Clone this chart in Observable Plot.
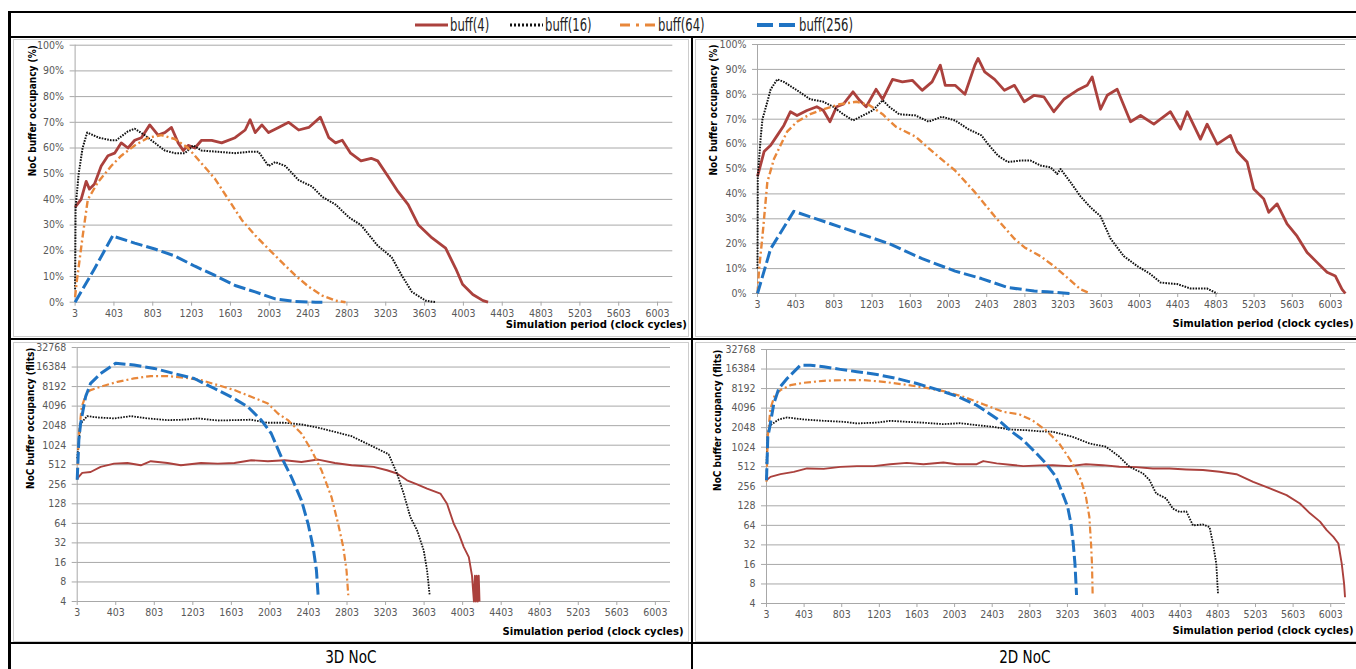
<!DOCTYPE html>
<html>
<head>
<meta charset="utf-8">
<script src="https://cdn.jsdelivr.net/npm/d3@7"></script>
<script src="https://cdn.jsdelivr.net/npm/@observablehq/plot@0.6"></script>
<style>
  html, body { margin: 0; padding: 0; background: #fff; width: 1356px; height: 669px; overflow: hidden; }
  body { position: relative; font-family: "Liberation Sans Narrow", "DejaVu Sans Condensed", "Liberation Sans", Arial, sans-serif; }
  .rule { position: absolute; background: #000; }
  .frame { position: absolute; border: 1px solid #cdcdcd; box-sizing: border-box; }
  .panel { position: absolute; }
  .legend-item { position: absolute; top: 14px; height: 22px; display: flex; align-items: center; font-size: 17px; color: #222; white-space: nowrap; }
  .legend-item svg { margin-right: 2px; flex: none; }
  .legend-item span { display: inline-block; transform: scaleX(0.76); transform-origin: left center; }
  .caption { position: absolute; top: 645px; height: 24px; line-height: 24px; text-align: center; font-size: 17.5px; color: #000; }
  .caption span { display: inline-block; transform: scaleX(0.86); }
</style>
</head>
<body>
<script>
// Simulation cycle ticks shared by all four charts
const cycleTicks = [3, 403, 803, 1203, 1603, 2003, 2403, 2803, 3203, 3603, 4003, 4403, 4803, 5203, 5603, 6003];
const pctTicks = [0, 10, 20, 30, 40, 50, 60, 70, 80, 90, 100];
const flitTicks = [4, 8, 16, 32, 64, 128, 256, 512, 1024, 2048, 4096, 8192, 16384, 32768];
const seriesNames = ["buff(4)", "buff(16)", "buff(64)", "buff(256)"];
const networkNames = ["3D NoC", "2D NoC"];

// 3D NoC, buffer occupancy in percent  [cycle, %]
const pct3d_b4 = [[3,37],[65,40],[117,47],[151,44],[203,46],[272,53],[341,57],[410,58],[479,62],[548,60],[617,63],[686,64],[772,69],[858,65],[927,66],[996,68],[1065,62],[1117,59],[1168,61],[1237,60],[1306,63],[1410,63],[1513,62],[1651,64],[1755,67],[1806,71],[1858,66],[1927,69],[1996,66],[2099,68],[2203,70],[2306,67],[2410,68],[2530,72],[2617,64],[2686,62],[2755,63],[2841,58],[2948,55],[3053,56],[3120,55],[3226,49],[3330,43],[3434,38],[3540,30],[3680,25],[3820,21],[3925,13],[3994,7],[4100,3],[4205,0.6],[4257,0]];
const pct3d_b16 = [[3,5],[8,37],[40,50],[80,60],[127,66],[250,64],[375,63],[427,63],[548,66.5],[617,67.5],[720,65],[858,61],[927,59],[1030,58],[1134,58],[1220,61],[1306,59],[1479,58.5],[1651,58],[1789,58.5],[1893,58.5],[1996,53],[2065,54.5],[2168,53],[2306,47.5],[2444,45],[2548,41],[2686,38],[2824,33],[2948,30],[3120,22],[3264,17.5],[3368,10.4],[3473,4],[3613,0.6],[3718,0]];
const pct3d_b64 = [[3,2],[20,8],[82,26],[134,40],[237,46.6],[375,53],[479,57],[617,61],[755,64],[893,65],[1030,63.5],[1168,60],[1306,54],[1444,48],[1582,40],[1720,32],[1858,26],[1996,20.7],[2134,15.5],[2272,10.4],[2410,6],[2548,2.6],[2686,0.6],[2789,0]];
const pct3d_b256 = [[3,0],[203,13],[393,26],[410,25.5],[617,23],[824,20.7],[1030,18],[1237,14],[1444,10.4],[1651,6.5],[1858,4],[2065,1.3],[2272,0.3],[2479,0],[2550,0]];

// 2D NoC, buffer occupancy in percent  [cycle, %]
const pct2d_b4 = [[3,47],[72,57],[141,59.5],[210,63.5],[279,67.5],[348,73],[417,71.5],[520,73.5],[624,75],[693,73.5],[762,69],[831,75],[900,76],[1003,81],[1072,77.6],[1141,75],[1244,82],[1313,78],[1417,86],[1520,85],[1624,85.6],[1727,81.6],[1831,85],[1917,91.7],[1969,83.6],[2072,83.6],[2175,80],[2279,91.7],[2313,94.4],[2382,89],[2486,86],[2589,81.6],[2693,83.6],[2796,77],[2900,79.6],[3001,79],[3106,73],[3211,78],[3350,81.6],[3455,83.6],[3507,87],[3595,74],[3665,79.6],[3769,82],[3909,69],[4014,71.5],[4153,68],[4327,73],[4432,66],[4502,73],[4641,62],[4711,68],[4816,60],[4955,63.5],[5025,57],[5130,52.8],[5199,42],[5304,38],[5356,32.6],[5444,36],[5548,28],[5653,23],[5758,16.5],[5862,12.5],[5967,8.5],[6054,7],[6124,1.7],[6159,0]];
const pct2d_b16 = [[3,10],[6,47],[37,63],[55,70],[106,77],[141,82],[210,86],[279,85],[417,81.6],[555,78],[693,77],[796,75],[900,72],[1003,69.5],[1106,71.5],[1210,73.5],[1313,77.6],[1382,75],[1486,72],[1658,71.5],[1796,69],[1934,71],[2072,69.5],[2210,66],[2348,63.5],[2417,60],[2520,55.4],[2624,52.8],[2762,53.4],[2862,53.4],[2966,51.4],[3071,50.7],[3141,48],[3176,50],[3280,44.7],[3385,39],[3490,34.6],[3595,31],[3700,22],[3839,15],[3979,11],[4118,7.8],[4223,4.4],[4397,3.8],[4537,2],[4711,2],[4816,0]];
const pct2d_b64 = [[3,0],[20,10],[55,23],[106,44.7],[175,54],[313,65],[417,69],[555,72],[693,74],[865,76],[1038,77],[1175,75.6],[1313,72],[1451,67],[1658,63],[1865,56],[2072,49.4],[2279,40.7],[2486,31],[2693,22],[2800,18.5],[2966,15],[3106,11],[3246,6.4],[3385,1.7],[3490,0]];
const pct2d_b256 = [[3,0],[141,18],[383,33],[693,29],[1038,24.5],[1382,20],[1727,14],[2072,9],[2348,6],[2624,2.4],[2900,1],[3036,0.7],[3280,0]];

// 3D NoC, buffer occupancy in flits  [cycle, flits]
const flit3d_b4 = [[3,313],[55,383],[142,396],[246,474],[385,533],[524,545],[663,502],[767,580],[940,545],[1079,502],[1288,545],[1461,533],[1635,545],[1809,600],[1982,580],[2156,600],[2330,563],[2503,615],[2677,545],[2850,502],[3080,474],[3218,421],[3322,375],[3426,295],[3530,256],[3634,220],[3772,184],[3841,128],[3911,63],[3963,44],[4015,27.6],[4067,19.3],[4100,10],[4120,4],[4130,10],[4140,4],[4150,10],[4160,4],[4170,10],[4178,4]];
const flit3d_b16 = [[3,640],[38,2200],[107,2870],[211,2740],[385,2650],[559,2870],[732,2650],[940,2490],[1114,2530],[1253,2650],[1461,2460],[1635,2490],[1809,2530],[1982,2270],[2156,2270],[2330,2140],[2503,1910],[2677,1640],[2850,1410],[3080,963],[3235,743],[3322,375],[3391,184],[3460,80],[3530,50],[3599,24.5],[3634,12],[3661,5]];
const flit3d_b64 = [[3,300],[20,1500],[50,4000],[100,6500],[142,7230],[246,8130],[420,9700],[593,10950],[767,11900],[940,11900],[1114,11200],[1288,10300],[1461,8640],[1635,7230],[1809,5700],[1982,4500],[2086,3150],[2190,2490],[2330,1550],[2434,857],[2538,422],[2642,163],[2711,63],[2764,27.7],[2798,12],[2816,5]];
const flit3d_b256 = [[3,300],[20,1228],[38,2200],[90,5700],[142,9200],[246,13000],[402,18700],[593,17600],[802,15600],[1010,13000],[1218,10900],[1427,7650],[1600,5700],[1774,4000],[1913,2490],[2017,1550],[2121,676],[2225,333],[2330,145],[2399,63],[2451,27.6],[2486,12],[2503,5]];

// 2D NoC, buffer occupancy in flits  [cycle, flits]
const flit2d_b4 = [[3,317],[45,357],[152,393],[293,427],[434,482],[611,474],[788,510],[965,523],[1142,523],[1318,560],[1495,588],[1672,560],[1884,596],[2026,560],[2238,560],[2308,626],[2450,576],[2591,550],[2733,523],[2910,537],[3045,541],[3222,523],[3400,560],[3578,541],[3756,512],[3934,505],[4111,481],[4289,481],[4467,465],[4644,455],[4822,428],[5000,393],[5178,300],[5356,237],[5533,187],[5675,139],[5782,98],[5889,73],[5960,54],[6031,42.5],[6084,33.6],[6120,16.5],[6145,8.1],[6155,5]];
const flit2d_b16 = [[3,575],[17,1660],[45,2240],[134,2740],[222,2940],[399,2740],[611,2610],[823,2520],[965,2380],[1177,2450],[1318,2610],[1495,2520],[1672,2440],[1884,2320],[2061,2400],[2238,2240],[2414,2110],[2591,1920],[2768,1870],[2910,1800],[3045,1770],[3258,1480],[3436,1170],[3614,1040],[3756,730],[3862,512],[4005,405],[4076,318],[4147,198],[4253,166],[4324,116],[4395,103],[4467,105],[4538,64],[4644,66],[4715,60],[4751,33.6],[4786,16.5],[4804,5.7]];
const flit2d_b64 = [[3,300],[17,1500],[45,4000],[90,6500],[152,7750],[258,9250],[399,10070],[611,10800],[823,11050],[1035,11050],[1248,10400],[1460,9500],[1672,8530],[1884,7500],[2096,6130],[2308,4710],[2521,3590],[2689,3300],[2831,2650],[2974,1870],[3116,1170],[3258,575],[3347,318],[3400,176],[3436,87],[3454,33.6],[3464,16.5],[3471,5.7]];
const flit2d_b256 = [[3,317],[17,1480],[38,2100],[81,4830],[134,8200],[222,11700],[364,18800],[470,18800],[611,17800],[788,16200],[965,14900],[1177,13500],[1389,11700],[1601,9800],[1813,7950],[2026,6270],[2238,4550],[2450,2840],[2591,1870],[2733,1310],[2874,820],[2974,575],[3080,360],[3151,198],[3205,124],[3240,69],[3265,33.6],[3283,16.5],[3294,8.1],[3300,5.4]];

// ---- styling ----
const FONT = "'Liberation Sans Narrow','DejaVu Sans Condensed','Liberation Sans',Arial,sans-serif";
const seriesStyle = [
  {stroke: "#ab413d", dash: null,      pctWidth: 2.8, flitWidth: 1.9},
  {stroke: "#111111", dash: "1.6,1.2", pctWidth: 2.0, flitWidth: 1.8},
  {stroke: "#e8873a", dash: "7,3,2,3", pctWidth: 2.4, flitWidth: 2.2},
  {stroke: "#1f73c3", dash: "12,4",    pctWidth: 3.0, flitWidth: 3.0}
];
const gridColor = "#a8a8a8";
const tickText = "#595959";

function drawPanel(opts) {
  const {series, log, left, top, width, height, margin, yLabel, yLabelDx, xLabelDx, xLabelDy} = opts;
  const yTicks = log ? flitTicks : pctTicks;
  const marks = [
    Plot.gridY(yTicks, {stroke: gridColor, strokeOpacity: 1, strokeWidth: 1}),
    Plot.ruleX([3], {stroke: gridColor, strokeWidth: 1}),
    Plot.axisY(yTicks, {
      tickSize: 5, tickPadding: 6, stroke: gridColor, fill: tickText, fontSize: 10.5, label: null,
      tickFormat: log ? (d => String(d)) : (d => d + "%")
    }),
    Plot.axisX(cycleTicks, {
      tickSize: 4, tickPadding: 3, stroke: gridColor, fill: tickText, fontSize: 10.5, label: null,
      tickFormat: d => String(d)
    })
  ];
  series.forEach((data, i) => {
    const s = seriesStyle[i];
    marks.push(Plot.line(data, {
      x: d => d[0], y: d => d[1],
      stroke: s.stroke,
      strokeWidth: log ? s.flitWidth : s.pctWidth,
      strokeDasharray: s.dash,
      strokeLinejoin: "round",
      strokeLinecap: "butt"
    }));
  });
  marks.push(Plot.text([yLabel], {
    text: d => d, frameAnchor: "top-left", rotate: -90, textAnchor: "end",
    dx: yLabelDx, fontWeight: "bold", fontSize: 10, fill: "#000"
  }));
  marks.push(Plot.text(["Simulation period (clock cycles)"], {
    text: d => d, frameAnchor: "bottom-right", textAnchor: "end",
    dx: xLabelDx, dy: xLabelDy, fontWeight: "bold", fontSize: 11.2, fill: "#000"
  }));

  const svg = Plot.plot({
    width, height,
    marginLeft: margin[0], marginRight: margin[1], marginTop: margin[2], marginBottom: margin[3],
    x: {domain: [3, 6160], label: null},
    y: log
      ? {type: "log", base: 2, domain: [4, 32768], label: null}
      : {domain: [0, 100], label: null},
    style: {fontFamily: FONT, fontSize: "10.5px", background: "transparent", overflow: "visible", maxWidth: "none"},
    marks
  });
  const wrap = document.createElement("div");
  wrap.className = "panel";
  wrap.style.left = left + "px";
  wrap.style.top = top + "px";
  wrap.appendChild(svg);
  document.body.appendChild(wrap);
}

// ---- table rules and chart frames ----
function box(cls, l, t, w, h) {
  const d = document.createElement("div");
  d.className = cls;
  Object.assign(d.style, {left: l + "px", top: t + "px", width: w + "px", height: h + "px"});
  document.body.appendChild(d);
}
box("frame", 13, 39, 676, 298);
box("frame", 695, 39, 670, 298);
box("frame", 13, 342, 676, 300);
box("frame", 695, 342, 670, 300);

// ---- the four charts ----
drawPanel({series: [pct3d_b4, pct3d_b16, pct3d_b64, pct3d_b256], log: false,
  left: 12, top: 39, width: 678, height: 298, margin: [62.6, 17.7, 5.7, 35.3],
  yLabel: "NoC buffer occupancy (%)", yLabelDx: -46, xLabelDx: 14, xLabelDy: 26});
drawPanel({series: [pct2d_b4, pct2d_b16, pct2d_b64, pct2d_b256], log: false,
  left: 694, top: 39, width: 672, height: 298, margin: [63, 21, 5, 44],
  yLabel: "NoC buffer occupancy (%)", yLabelDx: -48, xLabelDx: 8, xLabelDy: 33});
drawPanel({series: [flit3d_b4, flit3d_b16, flit3d_b64, flit3d_b256], log: true,
  left: 12, top: 342, width: 678, height: 299, margin: [64.7, 20, 5, 40],
  yLabel: "NoC buffer occupancy (flits)", yLabelDx: -50, xLabelDx: 13, xLabelDy: 33});
drawPanel({series: [flit2d_b4, flit2d_b16, flit2d_b64, flit2d_b256], log: true,
  left: 694, top: 342, width: 672, height: 299, margin: [72, 21, 7, 38],
  yLabel: "NoC buffer occupancy (flits)", yLabelDx: -53, xLabelDx: 8, xLabelDy: 30});

box("rule", 8, 11, 1348, 2);
box("rule", 8, 36, 1348, 2);
box("rule", 8, 338, 1348, 2);
box("rule", 8, 642, 1348, 2);
box("rule", 8, 11, 3, 658);
box("rule", 691, 36, 2, 633);

// ---- legend ----
const legendLeft = [415, 510, 620, 757];
seriesNames.forEach((name, i) => {
  const s = seriesStyle[i];
  const item = document.createElement("div");
  item.className = "legend-item";
  item.style.left = legendLeft[i] + "px";
  const sw = i === 3 ? 40 : (i === 2 ? 36 : 33);
  const ns = "http://www.w3.org/2000/svg";
  const svg = document.createElementNS(ns, "svg");
  svg.setAttribute("width", sw);
  svg.setAttribute("height", 10);
  const ln = document.createElementNS(ns, "line");
  ln.setAttribute("x1", 0); ln.setAttribute("x2", sw);
  ln.setAttribute("y1", 5); ln.setAttribute("y2", 5);
  ln.setAttribute("stroke", s.stroke);
  ln.setAttribute("stroke-width", i === 3 ? 4 : 3);
  if (s.dash) ln.setAttribute("stroke-dasharray", i === 1 ? "2,2" : (i === 2 ? "10,6,3,6" : "16,6"));
  svg.appendChild(ln);
  item.appendChild(svg);
  const t = document.createElement("span");
  t.textContent = name;
  item.appendChild(t);
  document.body.appendChild(item);
});

// ---- captions ----
networkNames.forEach((name, i) => {
  const c = document.createElement("div");
  c.className = "caption";
  c.style.left = (i === 0 ? 10 : 693) + "px";
  c.style.width = (i === 0 ? 681 : 663) + "px";
  const t = document.createElement("span");
  t.textContent = name;
  c.appendChild(t);
  document.body.appendChild(c);
});
</script>
</body>
</html>
